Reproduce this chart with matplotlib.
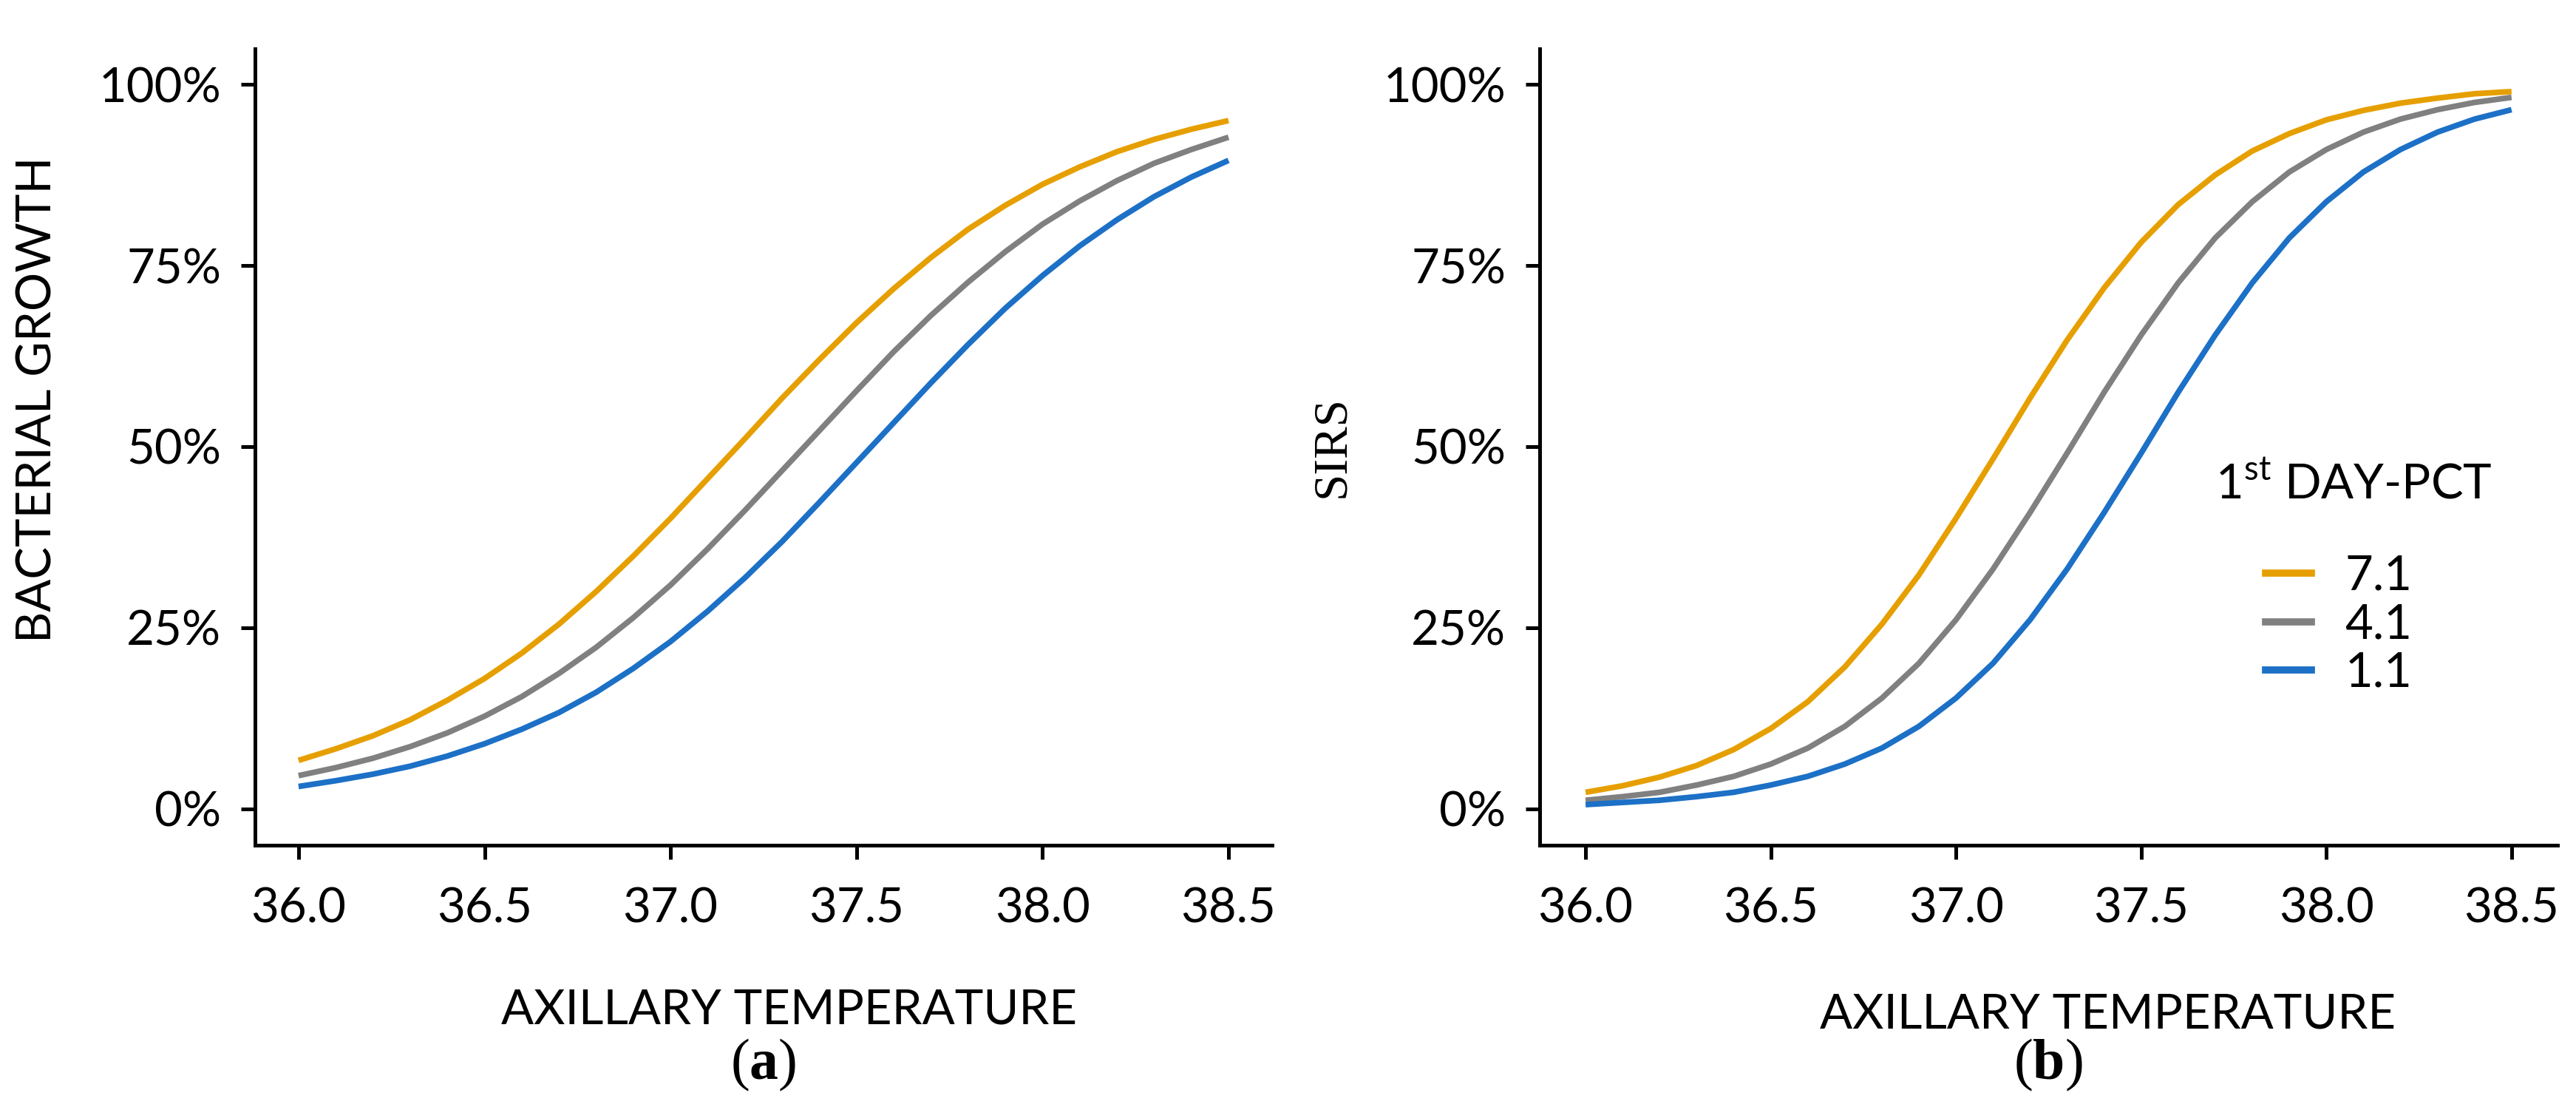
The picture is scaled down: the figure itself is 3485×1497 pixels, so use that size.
import matplotlib
matplotlib.use("Agg")
import matplotlib.pyplot as plt
from matplotlib.lines import Line2D
from matplotlib.ticker import PercentFormatter

plt.rcParams['font.family'] = ['Lato', 'DejaVu Sans']
plt.rcParams['mathtext.fontset'] = 'custom'
plt.rcParams['mathtext.rm'] = 'Lato'
plt.rcParams['mathtext.bf'] = 'Liberation Serif:bold'

# temperatures (°C)
temp = [36.0, 36.1, 36.2, 36.3, 36.4, 36.5, 36.6, 36.7, 36.8, 36.9, 37.0, 37.1, 37.2,
        37.3, 37.4, 37.5, 37.6, 37.7, 37.8, 37.9, 38.0, 38.1, 38.2, 38.3, 38.4, 38.5]

# (a) bacterial growth probability
growth_71 = [0.067, 0.083, 0.101, 0.123, 0.150, 0.180, 0.215, 0.255, 0.300, 0.349, 0.401, 0.456, 0.511,
             0.567, 0.620, 0.671, 0.718, 0.761, 0.800, 0.833, 0.862, 0.886, 0.907, 0.924, 0.938, 0.950]
growth_41 = [0.046, 0.057, 0.070, 0.086, 0.105, 0.128, 0.155, 0.187, 0.223, 0.264, 0.309, 0.359, 0.412,
             0.467, 0.522, 0.577, 0.631, 0.681, 0.727, 0.769, 0.807, 0.839, 0.867, 0.891, 0.910, 0.927]
growth_11 = [0.031, 0.039, 0.048, 0.059, 0.073, 0.090, 0.110, 0.133, 0.161, 0.194, 0.231, 0.273, 0.319,
             0.369, 0.423, 0.478, 0.533, 0.588, 0.641, 0.691, 0.736, 0.777, 0.813, 0.845, 0.872, 0.895]

# (b) SIRS probability
sirs_71 = [0.023, 0.032, 0.044, 0.060, 0.082, 0.111, 0.148, 0.196, 0.255, 0.323, 0.401, 0.483, 0.567,
           0.647, 0.719, 0.782, 0.834, 0.875, 0.908, 0.932, 0.951, 0.964, 0.974, 0.981, 0.987, 0.990]
sirs_41 = [0.012, 0.017, 0.023, 0.033, 0.045, 0.062, 0.084, 0.114, 0.153, 0.201, 0.261, 0.331, 0.409,
           0.491, 0.575, 0.654, 0.726, 0.788, 0.838, 0.879, 0.910, 0.934, 0.952, 0.965, 0.975, 0.982]
sirs_11 = [0.006, 0.009, 0.012, 0.017, 0.023, 0.033, 0.045, 0.062, 0.084, 0.114, 0.153, 0.201, 0.261,
           0.331, 0.409, 0.491, 0.575, 0.654, 0.726, 0.788, 0.838, 0.879, 0.910, 0.934, 0.952, 0.965]

pct_labels = ["7.1", "4.1", "1.1"]
colors = ["#E69F00", "#808080", "#1C70C6"]
xticks = [36.0, 36.5, 37.0, 37.5, 38.0, 38.5]
yticks = [0, 0.25, 0.5, 0.75, 1.0]

fig = plt.figure(figsize=(34.85, 14.97), dpi=100)
ax1 = fig.add_axes([0.0990, 0.2365, 0.3948, 0.7194])
ax2 = fig.add_axes([0.5977, 0.2365, 0.3951, 0.7194])

panels = [
    (ax1, [growth_71, growth_41, growth_11], (35.883, 38.617)),
    (ax2, [sirs_71, sirs_41, sirs_11], (35.876, 38.624)),
]
for ax, series, xlim in panels:
    for ys, c in zip(series, colors):
        ax.plot(temp, ys, color=c, lw=5.5, solid_capstyle='butt')
    ax.set_xlim(*xlim)
    ax.set_ylim(-0.05, 1.049)
    ax.set_xticks(xticks)
    ax.set_xticklabels([f"{t:.1f}" for t in xticks])
    ax.set_yticks(yticks)
    ax.yaxis.set_major_formatter(PercentFormatter(1.0, decimals=0))
    for s in ["top", "right"]:
        ax.spines[s].set_visible(False)
    for s in ["left", "bottom"]:
        ax.spines[s].set_linewidth(3.6)
    ax.tick_params(axis='both', direction='out', length=14, width=3.6, labelsize=47)
    ax.tick_params(axis='y', pad=19)
    ax.tick_params(axis='x', pad=27)
    ax.set_xlabel("AXILLARY TEMPERATURE", fontsize=47)

ax1.xaxis.set_label_coords(0.525, -0.18)
ax2.xaxis.set_label_coords(0.558, -0.185)

ax1.set_ylabel("BACTERIAL GROWTH", fontsize=47)
ax1.yaxis.set_label_coords(-0.192, 0.56)
ax2.set_ylabel("SIRS", fontsize=47, family="Liberation Serif")
ax2.yaxis.set_label_coords(-0.182, 0.5)

# legend
ax2.text(0.664, 0.453, r"1$^{\mathregular{st}}$ DAY-PCT", transform=ax2.transAxes,
         fontsize=47, ha='left', va='center')
handles = [Line2D([], [], color=c, lw=7) for c in colors]
ax2.legend(handles, pct_labels, loc='upper left', bbox_to_anchor=(0.713, 0.365),
           frameon=False, fontsize=47, borderpad=0, borderaxespad=0,
           handlelength=0.95, handletextpad=0.7, labelspacing=0.1)

fig.text(0.2964, 0.038, r"($\mathbf{a}$)", family="Liberation Serif", fontsize=56,
         ha='center', va='center')
fig.text(0.7951, 0.038, r"($\mathbf{b}$)", family="Liberation Serif", fontsize=56,
         ha='center', va='center')

fig.savefig("out.png", dpi=100)
